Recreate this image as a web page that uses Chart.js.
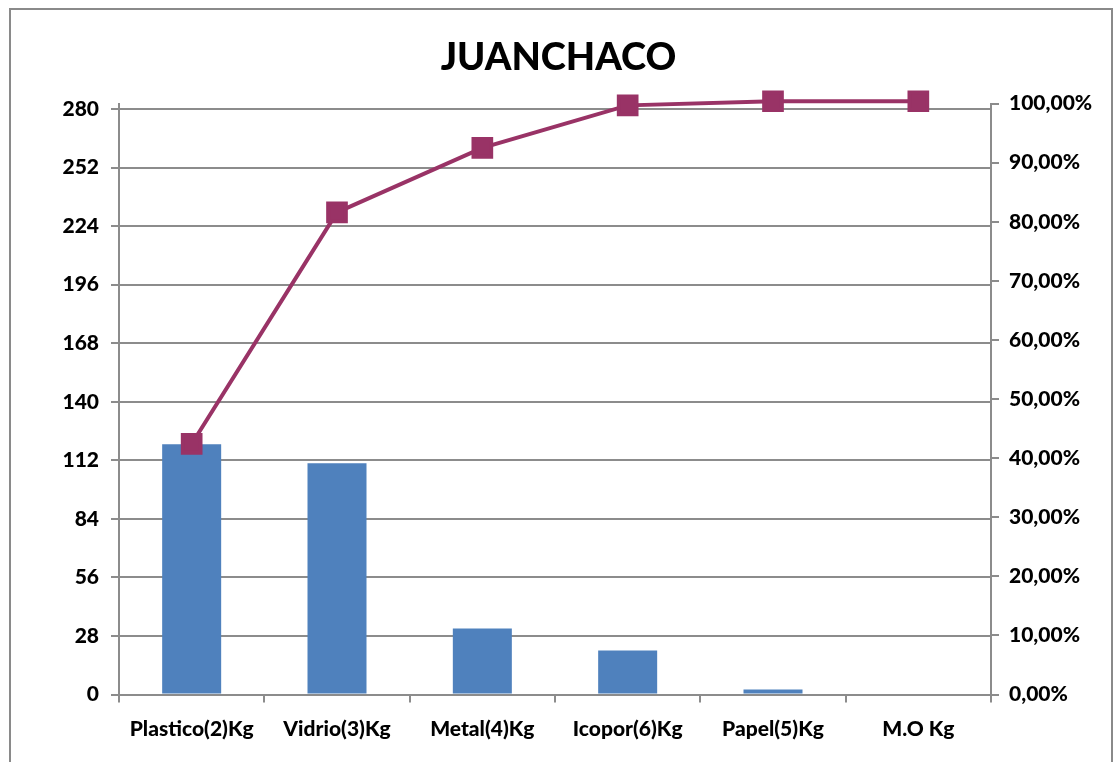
<!DOCTYPE html>
<html>
<head>
<meta charset="utf-8">
<title>JUANCHACO</title>
<script src="https://cdn.jsdelivr.net/npm/chart.js@4/dist/chart.umd.min.js"></script>
<style>
    html, body { margin: 0; padding: 0; background: #fff; overflow: hidden; }
    #wrap { position: relative; width: 1117px; height: 762px; }
    #frame {
        position: absolute; left: 9px; top: 8px; width: 1104px; height: 800px;
        border: 2px solid #8a8a8a; box-sizing: border-box;
    }
    canvas { position: absolute; left: 0; top: 0; }
</style>
</head>
<body>
<div id="wrap">
    <div id="frame"></div>
    <canvas id="myChart" width="1117" height="762"></canvas>
</div>
<script>
// Residuos por tipo (Kg) y porcentaje acumulado
const categories = ['Plastico(2)Kg', 'Vidrio(3)Kg', 'Metal(4)Kg', 'Icopor(6)Kg', 'Papel(5)Kg', 'M.O Kg'];
const kilos = [119.7, 110.6, 31.6, 21.1, 2.4, 0];
const cumulative = [42.4, 81.6, 92.5, 99.7, 100.4, 100.4];
const kgTicks = [0, 28, 56, 84, 112, 140, 168, 196, 224, 252, 280];
const kgMax = 282.6;

const gridColor = '#8c8c8c';
const labelFont = { family: 'Lato', size: 21, weight: 900 };

const ctx = document.getElementById('myChart').getContext('2d');

const myChart = new Chart(ctx, {
    type: 'bar',
    data: {
        labels: categories,
        datasets: [{
            type: 'line',
            label: '% acumulado',
            data: cumulative,
            yAxisID: 'pct',
            borderColor: '#993366',
            backgroundColor: '#993366',
            borderWidth: 4,
            pointStyle: 'rect',
            pointRadius: 12.5,
            pointHoverRadius: 12.5,
            tension: 0,
            clip: false,
            order: 0
        }, {
            label: 'Kg',
            data: kilos,
            yAxisID: 'kg',
            backgroundColor: '#4f81bd',
            categoryPercentage: 1,
            barPercentage: 0.406,
            order: 1
        }]
    },
    options: {
        responsive: false,
        animation: false,
        layout: { padding: { left: 0, right: 0, top: 0, bottom: 0 } },
        plugins: {
            legend: { display: false },
            tooltip: { enabled: false },
            title: {
                display: true,
                text: 'JUANCHACO',
                color: '#000',
                font: { family: 'Lato', size: 38, weight: 900 },
                padding: { top: 35, bottom: 23 }
            }
        },
        scales: {
            x: {
                grid: {
                    drawOnChartArea: false,
                    drawTicks: true,
                    tickLength: 8,
                    color: gridColor,
                    lineWidth: 2
                },
                border: { display: true, color: gridColor, width: 2 },
                ticks: { color: '#000', font: labelFont, padding: 14, maxRotation: 0 },
                afterFit: function (scale) { scale.height = 762 - 694.5; }
            },
            kg: {
                position: 'left',
                min: 0,
                max: kgMax,
                afterBuildTicks: function (scale) {
                    scale.ticks = kgTicks.map(v => ({ value: v }));
                },
                grid: { color: gridColor, lineWidth: 2, tickLength: 8 },
                border: { display: true, color: gridColor, width: 2 },
                ticks: { color: '#000', font: labelFont, padding: 12 },
                afterFit: function (scale) { scale.width = 119; }
            },
            pct: {
                position: 'right',
                min: 0,
                max: 100,
                ticks: {
                    stepSize: 10,
                    color: '#000',
                    font: labelFont,
                    padding: 10,
                    callback: v => v.toFixed(2).replace('.', ',') + '%'
                },
                grid: { drawOnChartArea: false, color: gridColor, lineWidth: 2, tickLength: 8 },
                border: { display: true, color: gridColor, width: 2 },
                afterFit: function (scale) { scale.width = 1117 - 991; }
            }
        }
    }
});
</script>
</body>
</html>
